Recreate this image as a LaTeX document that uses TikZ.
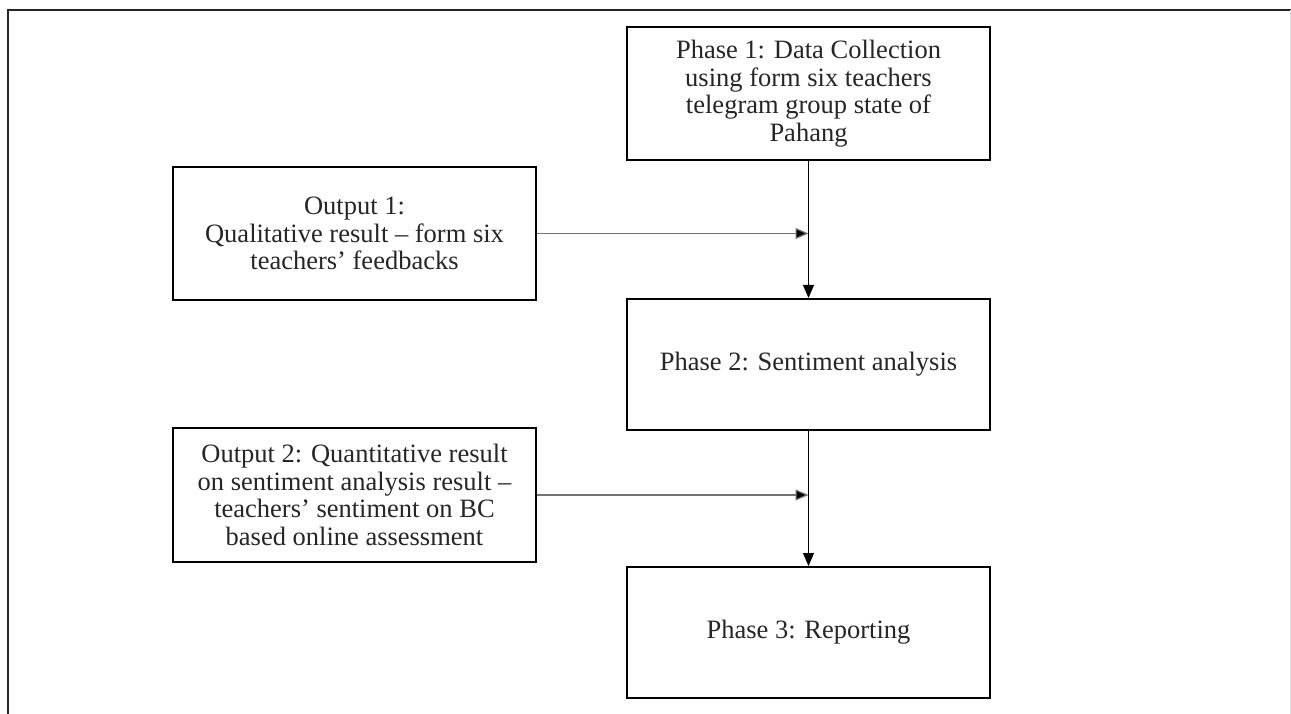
\documentclass[tikz,border=0pt]{standalone}
\usepackage{fontspec}
\setmainfont{Liberation Serif}
\usetikzlibrary{arrows.meta,positioning}
\begin{document}
\begin{tikzpicture}[x=1pt,y=-1pt,
  box/.style={draw=black,line width=2pt,minimum width=363pt,align=center,
    inner sep=0pt,font=\fontsize{26.5}{27.5}\selectfont,text=black!85},
  flow/.style={line width=1pt,-{Triangle[length=13pt,width=11pt]}},
  feed/.style={draw=black!55,line width=1.2pt,-{Triangle[length=13pt,width=11pt,fill=black]}}]
\useasboundingbox (0,0) rectangle (1291,714);
% outer frame
\draw[line width=2.2pt,black!85] (8,714) -- (8,10) -- (1291,10);
\draw[line width=0.8pt,black!12] (1290,10) -- (1290,714);
% boxes
\node[box,minimum height=133pt] (p1) at (808.5,93.5)
  {Phase 1: Data Collection\\using form six teachers\\telegram group state of\\Pahang};
\node[box,minimum height=131pt] (p2) at (808.5,364.5) {Phase 2: Sentiment analysis};
\node[box,minimum height=131pt] (p3) at (808.5,632.5) {Phase 3: Reporting};
\node[box,minimum height=133pt] (o1) at (354.5,233.5)
  {Output 1:\\Qualitative result -- form six\\teachers' feedbacks};
\node[box,minimum height=134pt] (o2) at (354.5,495)
  {Output 2: Quantitative result\\on sentiment analysis result --\\teachers' sentiment on BC\\based online assessment};
% connectors
\draw[flow] (p1.south) -- (p2.north);
\draw[flow] (p2.south) -- (p3.north);
\coordinate (j1) at (p1.south |- o1.east);
\coordinate (j2) at (p2.south |- o2.east);
\draw[feed] (o1.east) -- (j1);
\draw[feed] (o2.east) -- (j2);
\end{tikzpicture}
\end{document}
